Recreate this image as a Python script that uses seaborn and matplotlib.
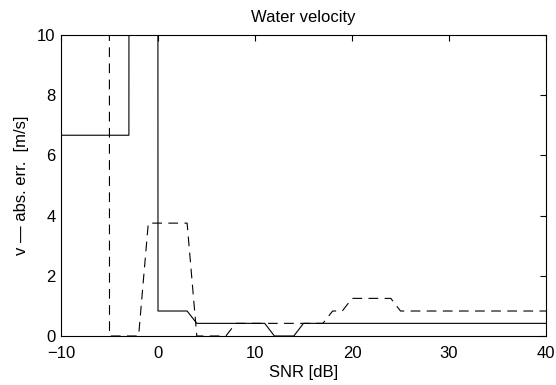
import matplotlib
matplotlib.use("Agg")
import matplotlib.pyplot as plt
import seaborn as sns
import pandas as pd

# SNR sample points [dB]
snr = [-10, -9, -8, -7, -6, -5, -4, -3, -2, -1, 0, 1, 2, 3, 4, 5, 6, 7, 8, 9,
       10, 11, 12, 13, 14, 15, 16, 17, 18, 19, 20, 21, 22, 23, 24, 25, 26, 27,
       28, 29, 30, 31, 32, 33, 34, 35, 36, 37, 38, 39, 40]

# absolute error, solid curve [m/s] (values far above 10 are off-scale)
err_solid = [6.67, 6.67, 6.67, 6.67, 6.67, 6.67, 6.67, 6.67, 1000, 1000,
             0.83, 0.83, 0.83, 0.83, 0.42, 0.42, 0.42, 0.42, 0.42, 0.42,
             0.42, 0.42, 0.0, 0.0, 0.0, 0.42, 0.42, 0.42, 0.42, 0.42,
             0.42, 0.42, 0.42, 0.42, 0.42, 0.42, 0.42, 0.42, 0.42, 0.42,
             0.42, 0.42, 0.42, 0.42, 0.42, 0.42, 0.42, 0.42, 0.42, 0.42, 0.42]

# absolute error, dashed curve [m/s] (values far above 10 are off-scale)
err_dashed = [1000, 1000, 1000, 1000, 1000, 0.0, 0.0, 0.0, 0.0, 3.75,
              3.75, 3.75, 3.75, 3.75, 0.0, 0.0, 0.0, 0.0, 0.42, 0.42,
              0.42, 0.42, 0.42, 0.42, 0.42, 0.42, 0.42, 0.42, 0.83, 0.83,
              1.25, 1.25, 1.25, 1.25, 1.25, 0.83, 0.83, 0.83, 0.83, 0.83,
              0.83, 0.83, 0.83, 0.83, 0.83, 0.83, 0.83, 0.83, 0.83, 0.83, 0.83]

x_ticks = [-10, 0, 10, 20, 30, 40]
y_ticks = [0, 2, 4, 6, 8, 10]

title = "Water velocity"
x_label = "SNR [dB]"
y_label = "v \u2014 abs. err.  [m/s]"

sns.set_theme(style="white")
plt.rcParams["font.family"] = ["Liberation Sans", "DejaVu Sans"]
plt.rcParams["lines.scale_dashes"] = False
plt.rcParams["text.color"] = "black"
plt.rcParams["axes.labelcolor"] = "black"
plt.rcParams["xtick.color"] = "black"
plt.rcParams["ytick.color"] = "black"

fig = plt.figure(figsize=(5.56, 3.85), dpi=100)
ax = fig.add_axes([61 / 556, 1 - 336 / 385, (546 - 61) / 556, (336 - 35) / 385])

df = pd.DataFrame({"snr": snr, "solid": err_solid, "dashed": err_dashed})
sns.lineplot(data=df, x="snr", y="solid", ax=ax, color="black", lw=0.8,
             estimator=None, sort=False)
sns.lineplot(data=df, x="snr", y="dashed", ax=ax, color="black", lw=0.8,
             estimator=None, sort=False)
ax.lines[-1].set_dashes((7.0, 4.6))

ax.set_xlim(-10, 40)
ax.set_ylim(0, 10)
ax.set_xticks(x_ticks)
ax.set_yticks(y_ticks)
ax.tick_params(direction="in", length=4, width=0.8, colors="black",
               labelcolor="black", top=True, right=True, labelsize=12)
ax.tick_params(axis="x", pad=7)
ax.tick_params(axis="y", pad=4)
for s in ax.spines.values():
    s.set_visible(True)
    s.set_color("black")
    s.set_linewidth(0.8)

ax.set_title(title, fontsize=12, pad=9, color="black")
ax.set_xlabel(x_label, fontsize=12, labelpad=3, color="black")
ax.set_ylabel(y_label, fontsize=12, labelpad=6, color="black")

fig.savefig("out.png", dpi=100, facecolor="white")
